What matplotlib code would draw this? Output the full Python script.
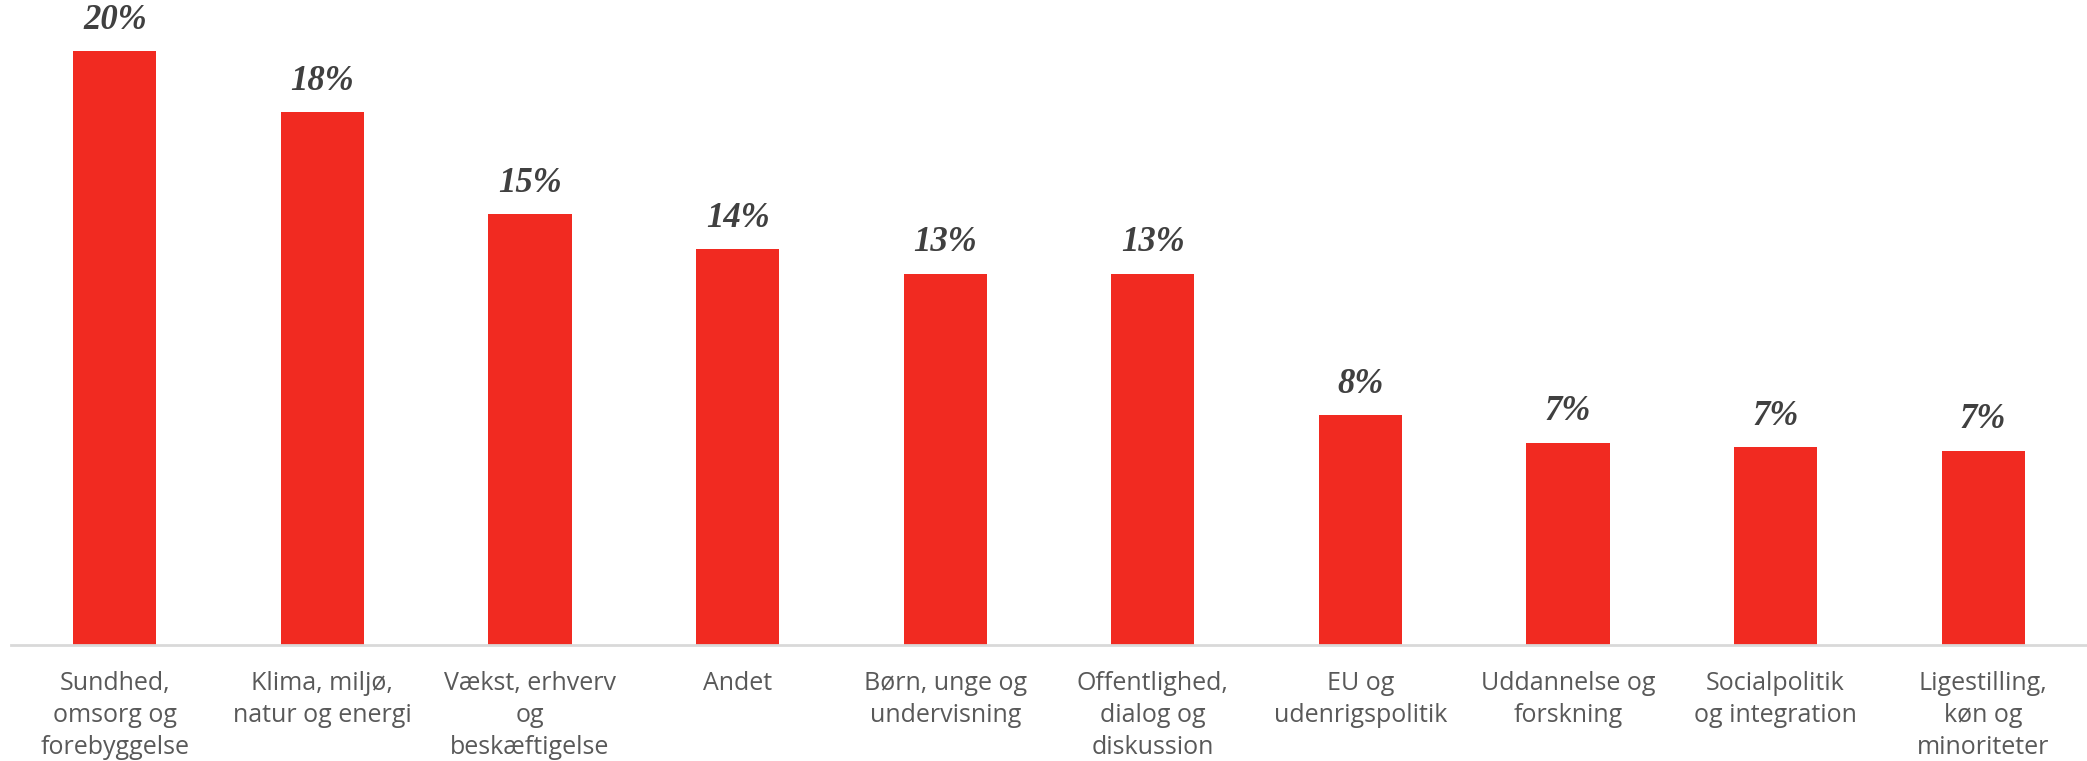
import numpy as np
import matplotlib.pyplot as plt

categories = ["Sundhed,\nomsorg og\nforebyggelse", "Klima, miljø,\nnatur og energi",
              "Vækst, erhverv\nog\nbeskæftigelse", "Andet", "Børn, unge og\nundervisning",
              "Offentlighed,\ndialog og\ndiskussion", "EU og\nudenrigspolitik",
              "Uddannelse og\nforskning", "Socialpolitik\nog integration",
              "Ligestilling,\nkøn og\nminoriteter"]
values = [20.4, 18.3, 14.8, 13.6, 12.75, 12.75, 7.9, 6.95, 6.8, 6.67]
labels = ["20%", "18%", "15%", "14%", "13%", "13%", "8%", "7%", "7%", "7%"]

fig = plt.figure(figsize=(20.87, 7.61), dpi=100)
ax = fig.add_axes([11 / 2087, 116 / 761, 1 - 11 / 2087, 645 / 761])

x = np.arange(len(categories))
bars = ax.bar(x, values, width=0.4, color="#f12a21")

for xi, v, lab in zip(x, values, labels):
    ax.text(xi, v + 0.5, lab, ha="center", va="bottom", fontsize=25,
            family="Liberation Serif", style="italic", weight="bold", color="#404040")

ax.set_xlim(-0.5, len(categories) - 0.5)
ax.set_ylim(0, 22.16)
ax.set_xticks(x)
ax.set_xticklabels(categories, fontsize=18, family="Open Sans", color="#595959",
                   linespacing=1.35)
ax.tick_params(axis="x", length=0, pad=19)
ax.set_yticks([])
for s in ["top", "right", "left"]:
    ax.spines[s].set_visible(False)
ax.spines["bottom"].set_color("#d9d9d9")
ax.spines["bottom"].set_linewidth(2)

fig.savefig("out.png", dpi=100)
